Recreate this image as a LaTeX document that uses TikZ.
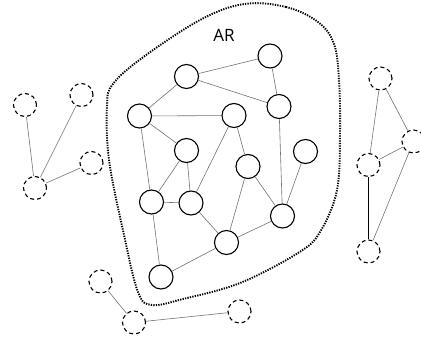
\documentclass[tikz,border=0pt]{standalone}
\usepackage{fontspec}
\setmainfont{Open Sans}
\begin{document}
\begin{tikzpicture}[x=1pt,y=-1pt,
  nd/.style={circle,draw=black,line width=1.1pt,minimum size=24pt,inner sep=0pt,fill=white},
  dn/.style={circle,draw=black,line width=1.1pt,minimum size=23pt,inner sep=0pt,dash pattern=on 4pt off 3pt,fill=white},
  ed/.style={draw=black!55,line width=0.6pt},
  thk/.style={draw=black,line width=1.1pt},
  bnd/.style={draw=black,line width=1.9pt,dash pattern=on 1.3pt off 1.2pt}]
\useasboundingbox (0,0) rectangle (421,343);
\clip (0,0) rectangle (421,343);
% boundary
\draw[bnd] plot[smooth cycle,tension=0.6] coordinates {
 (244,4) (286,7) (318,22) (334,44) (339,80) (340,133) (337,190) (320,232) (298,253)
 (240,283) (183,299) (152,305) (138,292) (124,235) (109,160) (107,105)
 (113,84) (142,58) (200,20)};
\node[font=\fontsize{17}{17}\selectfont] (ar) at (224,35) {AR};
% solid nodes
\node[nd] (A) at (270,56) {};
\node[nd] (B) at (186.5,76.5) {};
\node[nd] (C) at (139.5,116) {};
\node[nd] (D) at (234,115.5) {};
\node[nd] (E) at (279,106.5) {};
\node[nd] (F) at (186.5,150.5) {};
\node[nd] (G) at (248,166.5) {};
\node[nd] (H) at (305.5,151.5) {};
\node[nd] (I) at (151.5,202) {};
\node[nd] (J) at (191,203) {};
\node[nd] (K) at (282.5,216) {};
\node[nd] (L) at (226.5,242.5) {};
\node[nd] (M) at (161,277) {};
% dashed nodes
\node[dn] (P1) at (25,105) {};
\node[dn] (P2) at (81.5,95) {};
\node[dn] (P3) at (91.5,163) {};
\node[dn] (P4) at (35,188) {};
\node[dn] (R1) at (380.5,78.5) {};
\node[dn] (R2) at (413.5,141.5) {};
\node[dn] (R3) at (368.5,165) {};
\node[dn] (R4) at (368.5,251.5) {};
\node[dn] (Q1) at (100.5,281.5) {};
\node[dn] (Q2) at (134,322.5) {};
\node[dn] (Q3) at (239.5,311.5) {};
% edges
\foreach \a/\b in {A/B,B/E,A/E,B/C,C/D,C/F,C/I,D/J,D/G,E/K,F/I,F/J,I/J,G/K,G/L,H/K,J/L,L/K,L/M,I/M,
  P1/P4,P2/P4,P3/P4,R1/R3,R1/R2,R3/R2,R2/R4,Q1/Q2,Q2/Q3}
  \draw[ed] (\a) -- (\b);
\draw[thk] (R3) -- (R4);
\end{tikzpicture}
\end{document}
